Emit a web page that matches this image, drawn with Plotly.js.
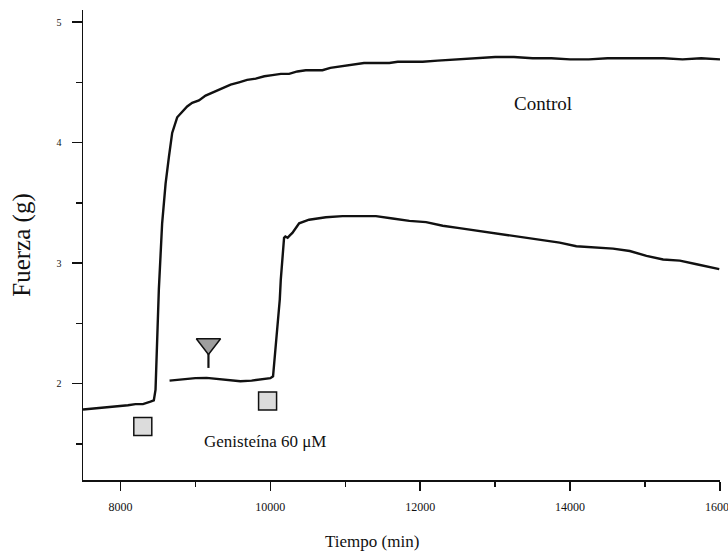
<!DOCTYPE html>
<html>
<head>
<meta charset="utf-8">
<script src="https://cdn.plot.ly/plotly-3.0.1.min.js"></script>
<style>html,body{margin:0;padding:0;background:#fff;}#chart{width:728px;height:556px;}</style>
</head>
<body>
<div id="chart"></div>
<script>
// Control trace (tiempo, fuerza)
const controlX = [7500, 7600, 7700, 7800, 7900, 8000, 8100, 8200, 8300, 8400, 8445, 8468, 8512, 8556, 8602, 8646, 8690, 8757, 8824, 8890, 8957, 9047, 9136, 9250, 9358, 9470, 9582, 9690, 9805, 9920, 10027, 10140, 10250, 10360, 10473, 10580, 10695, 10800, 10918, 11030, 11141, 11250, 11364, 11470, 11587, 11700, 11810, 11920, 12032, 12233, 12500, 12750, 13000, 13250, 13500, 13750, 14000, 14250, 14500, 14750, 15000, 15250, 15500, 15750, 16000];
const controlY = [1.785, 1.79, 1.80, 1.80, 1.81, 1.81, 1.82, 1.83, 1.83, 1.85, 1.86, 1.95, 2.78, 3.33, 3.66, 3.88, 4.08, 4.21, 4.26, 4.30, 4.33, 4.35, 4.39, 4.42, 4.45, 4.48, 4.50, 4.52, 4.53, 4.55, 4.56, 4.57, 4.57, 4.59, 4.60, 4.60, 4.60, 4.62, 4.63, 4.64, 4.65, 4.66, 4.66, 4.66, 4.66, 4.67, 4.67, 4.67, 4.67, 4.68, 4.69, 4.70, 4.71, 4.71, 4.70, 4.70, 4.69, 4.69, 4.70, 4.70, 4.70, 4.70, 4.69, 4.70, 4.69];

// Genisteína 60 µM trace
const genX = [8655, 8750, 8850, 9000, 9150, 9300, 9450, 9600, 9750, 9900, 10000, 10036, 10063, 10094, 10126, 10139, 10161, 10183, 10200, 10230, 10260, 10294, 10384, 10517, 10741, 10963, 11186, 11409, 11631, 11855, 12078, 12300, 12523, 12746, 12968, 13191, 13415, 13637, 13860, 14083, 14351, 14573, 14796, 15019, 15241, 15464, 15688, 15910, 15990];
const genY = [2.025, 2.03, 2.04, 2.045, 2.047, 2.04, 2.033, 2.02, 2.025, 2.035, 2.045, 2.06, 2.25, 2.53, 2.70, 2.86, 3.05, 3.21, 3.22, 3.21, 3.23, 3.25, 3.33, 3.36, 3.38, 3.39, 3.39, 3.39, 3.37, 3.35, 3.34, 3.31, 3.29, 3.27, 3.25, 3.23, 3.21, 3.19, 3.17, 3.14, 3.13, 3.12, 3.10, 3.06, 3.03, 3.02, 2.99, 2.96, 2.95];

// Event markers
const squareX = [8298, 9963];
const squareY = [1.644, 1.855];
const funnelX = [9174];
const funnelY = [2.329];
const stemX = [9174, 9174];
const stemY = [2.256, 2.13];

// Axis ticks
const xTickVals = [8000, 10000, 12000, 14000, 16000];
const xTickText = ['8000', '10000', '12000', '14000', '16000'];
const yTickVals = [2, 3, 4, 5];
const yTickText = ['2', '3', '4', '5'];

const serif = "'Liberation Serif', 'Times New Roman', serif";

const traces = [
  {x: controlX, y: controlY, type: 'scatter', mode: 'lines', name: 'Control',
   line: {color: '#111', width: 2.4}, hoverinfo: 'x+y'},
  {x: genX, y: genY, type: 'scatter', mode: 'lines', name: 'Genisteína 60 μM',
   line: {color: '#111', width: 2.4}, hoverinfo: 'x+y'},
  {x: squareX, y: squareY, type: 'scatter', mode: 'markers', name: 'squares',
   marker: {symbol: 'square', size: 18, color: '#dcdcdc', line: {color: '#111', width: 1.5}},
   cliponaxis: false, hoverinfo: 'skip'},
  {x: stemX, y: stemY, type: 'scatter', mode: 'lines', name: 'stem',
   line: {color: '#111', width: 2.2}, hoverinfo: 'skip'},
  {x: funnelX, y: funnelY, type: 'scatter', mode: 'markers', name: 'funnel',
   marker: {symbol: 'triangle-down', size: 21, color: '#9e9e9e', line: {color: '#111', width: 1.5}},
   hoverinfo: 'skip'}
];

const layout = {
  width: 728, height: 556,
  margin: {l: 83, r: 8, t: 10, b: 76},
  paper_bgcolor: '#fff', plot_bgcolor: '#fff',
  showlegend: false,
  font: {family: serif, color: '#111'},
  xaxis: {
    range: [7500, 16000], showgrid: false, zeroline: false,
    showline: true, linecolor: '#111', linewidth: 1.5,
    ticks: 'outside', ticklen: 9, tickwidth: 1.5, tickcolor: '#111',
    tickvals: xTickVals, ticktext: xTickText,
    tickfont: {family: serif, size: 12, color: '#111'},
    ticklabelstandoff: 6, ticklabeloverflow: 'allow',
    minor: {tickvals: [9000, 11000, 13000, 15000], ticks: 'outside', ticklen: 5, tickwidth: 1.5, tickcolor: '#111'},
    title: {text: ''},
    automargin: false
  },
  yaxis: {
    range: [1.2, 5.1], showgrid: false, zeroline: false,
    showline: true, linecolor: '#111', linewidth: 1.5,
    ticks: 'outside', ticklen: 10, tickwidth: 1.5, tickcolor: '#111',
    tickvals: yTickVals, ticktext: yTickText,
    tickfont: {family: serif, size: 10, color: '#111'},
    ticklabelstandoff: 8,
    minor: {tickvals: [1.5, 2.5, 3.5, 4.5], ticks: 'outside', ticklen: 6, tickwidth: 1.5, tickcolor: '#111'},
    title: {text: 'Fuerza (g)', font: {family: serif, size: 25, color: '#111'}, standoff: 19},
    automargin: false
  },
  annotations: [
    {x: 0.455, y: -0.13, xref: 'paper', yref: 'paper', yanchor: 'middle', text: 'Tiempo (min)', showarrow: false,
     font: {family: serif, size: 17, color: '#111'}},
    {x: 13633, y: 4.326, xref: 'x', yref: 'y', text: 'Control', showarrow: false,
     font: {family: serif, size: 19, color: '#111'}},
    {x: 9929, y: 1.522, xref: 'x', yref: 'y', text: 'Genisteína 60 μM', showarrow: false,
     font: {family: serif, size: 17, color: '#111'}}
  ]
};
// place x-axis title annotation in paper coords just below the axis
layout.annotations[0].y = -(541 - 480) / 470;
layout.annotations[0].x = (372 - 83) / 637;

Plotly.newPlot('chart', traces, layout, {displayModeBar: false, staticPlot: true});
</script>
</body>
</html>
